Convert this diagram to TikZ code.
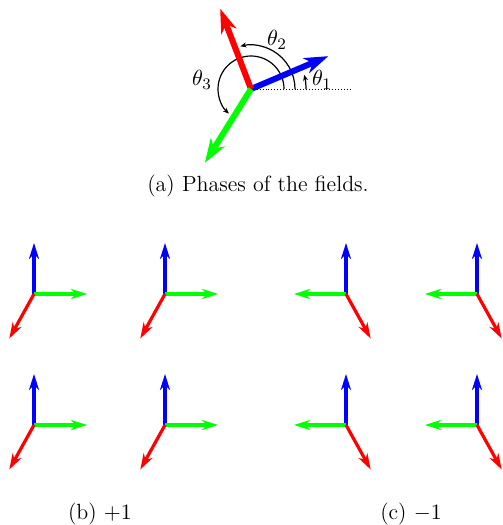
\documentclass[tikz,border=0pt]{standalone}
\usetikzlibrary{arrows.meta,calc}
\begin{document}
\begin{tikzpicture}[x=0.5pt,y=0.5pt,
  bigarrow/.style={line width=3pt,-{Stealth[length=12pt,width=8pt,inset=3.5pt]}},
  smallarrow/.style={line width=1.6pt,-{Stealth[length=8pt,width=5pt,inset=2.5pt]}},
  anglearc/.style={line width=0.6pt,-{Stealth[length=3pt,width=2.5pt]}},
  caption/.style={font=\fontsize{11}{13.5}\selectfont},
  lab/.style={font=\fontsize{11}{13.5}\selectfont}]
\useasboundingbox (0,0) rectangle (503,525);
% ---- (a) phases
\coordinate (o) at (251,436);
\coordinate (dotend) at (350,436);
\draw[line width=0.45pt,dash pattern=on 0.45pt off 1pt] (o) -- (dotend);
\coordinate (bt) at ($(o)+(23:84)$);
\coordinate (rt) at ($(o)+(111:86)$);
\coordinate (gt) at ($(o)+(238:87)$);
\draw[anglearc] ($(o)+(0:55)$) arc[start angle=0,end angle=15,radius=27.5pt];
\draw[anglearc] ($(o)+(0:44)$) arc[start angle=0,end angle=104,radius=22pt];
\draw[anglearc] ($(o)+(0:33)$) arc[start angle=0,end angle=228,radius=16.5pt];
\draw[bigarrow,blue] (o) -- (bt);
\draw[bigarrow,red] (o) -- (rt);
\draw[bigarrow,green] (o) -- (gt);
\node[lab] (t1) at (322,445) {$\theta_1$};
\node[lab] (t2) at (277,485) {$\theta_2$};
\node[lab] (t3) at (202,445) {$\theta_3$};
\node[caption] (capa) at (258,339) {(a) Phases of the fields.};
% ---- (b) +1
\foreach \x/\y [count=\i] in {34/231,165/231,34/100,165/100}{
  \coordinate (p\i) at (\x,\y);
  \draw[smallarrow,blue] (p\i) -- ++(90:51);
  \draw[smallarrow,green] (p\i) -- ++(0:53);
  \draw[smallarrow,red] (p\i) -- ++(241:51);
}
% ---- (c) -1
\foreach \x/\y [count=\i] in {346/231,477/231,346/100,477/100}{
  \coordinate (q\i) at (\x,\y);
  \draw[smallarrow,blue] (q\i) -- ++(90:51);
  \draw[smallarrow,green] (q\i) -- ++(180:52);
  \draw[smallarrow,red] (q\i) -- ++(299:51);
}
\node[caption] (capb) at (100,11) {(b) $+1$};
\node[caption] (capc) at (411,11) {(c) $-1$};
\end{tikzpicture}
\end{document}
